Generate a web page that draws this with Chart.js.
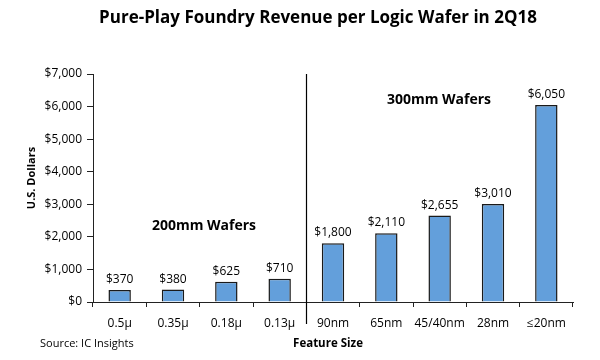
<!DOCTYPE html>
<html><head><meta charset="utf-8">
<script src="https://cdn.jsdelivr.net/npm/chart.js@4"></script>
<style>html,body{margin:0;padding:0;background:#fff}#wrap{width:600px;height:360px}</style>
</head><body><div id="wrap"><canvas id="c" width="600" height="360"></canvas></div>
<script>
const categories = ["0.5\u00b5","0.35\u00b5","0.18\u00b5","0.13\u00b5","90nm","65nm","45/40nm","28nm","\u226420nm"];
const revenue = [370,380,625,710,1800,2110,2655,3010,6050];
const yTicks = [0,1000,2000,3000,4000,5000,6000,7000];
const FONT = "'Open Sans', 'Liberation Sans', sans-serif";
const fmt = v => "$" + v.toLocaleString("en-US");

const overlay = {
  id: "overlay",
  afterDraw(chart) {
    const ctx = chart.ctx, x = chart.scales.x, a = chart.chartArea;
    ctx.save();
    const xd = (x.getPixelForValue(3) + x.getPixelForValue(4)) / 2;
    ctx.strokeStyle = "#000"; ctx.lineWidth = 1.2;
    ctx.beginPath(); ctx.moveTo(Math.round(xd)+0.5, a.top); ctx.lineTo(Math.round(xd)+0.5, a.bottom + 22); ctx.stroke();
    ctx.fillStyle = "#000"; ctx.textAlign = "center"; ctx.textBaseline = "middle";
    ctx.font = "bold 17px " + FONT;
    ctx.fillText("Pure-Play Foundry Revenue per Logic Wafer in 2Q18", 318, 18);
    ctx.font = "12px " + FONT; ctx.textBaseline = "alphabetic";
    const meta = chart.getDatasetMeta(0);
    meta.data.forEach((bar, i) => {
      ctx.fillText(fmt(revenue[i]), bar.x, bar.y - 7);
    });
    ctx.font = "bold 14px " + FONT; ctx.textBaseline = "middle";
    ctx.fillText("200mm Wafers", 204, 226);
    ctx.fillText("300mm Wafers", 439, 100);
    ctx.font = "bold 11.5px " + FONT;
    ctx.fillText("Feature Size", 328, 344);
    ctx.font = "11px " + FONT; ctx.textAlign = "left";
    ctx.fillText("Source: IC Insights", 40, 344);
    ctx.font = "bold 11px " + FONT; ctx.textAlign = "center";
    ctx.translate(32, 178); ctx.rotate(-Math.PI/2);
    ctx.fillText("U.S. Dollars", 0, 0);
    ctx.restore();
  }
};

new Chart(document.getElementById("c"), {
  type: "bar",
  data: { labels: categories, datasets: [{
    data: revenue, backgroundColor: "#639fdb", borderColor: "#1a1a1a", borderWidth: 1.5,
    categoryPercentage: 1, barPercentage: 0.42 }] },
  options: {
    responsive: false, animation: false, devicePixelRatio: 1,
    layout: { padding: { top: 74, right: 27, left: 0, bottom: 0 } },
    plugins: { legend: { display: false }, tooltip: { enabled: false } },
    scales: {
      x: {
        offset: true,
        grid: { offset: true, drawOnChartArea: false, drawTicks: true, tickLength: 5, color: "#222", lineWidth: 1 },
        border: { color: "#222", width: 1 },
        ticks: { color: "#000", font: { family: FONT, size: 12 }, padding: 9, maxRotation: 0, autoSkip: false },
        afterFit: s => { s.height = 58; }
      },
      y: {
        min: 0, max: 7000,
        afterBuildTicks: s => { s.ticks = yTicks.map(v => ({ value: v })); },
        grid: { drawOnChartArea: false, drawTicks: true, tickLength: 6, color: "#222" },
        border: { color: "#222", width: 1 },
        ticks: { color: "#000", font: { family: FONT, size: 12 }, padding: 5, callback: v => fmt(v) },
        afterFit: s => { s.width = 93; }
      }
    }
  },
  plugins: [overlay]
});
</script></body></html>
